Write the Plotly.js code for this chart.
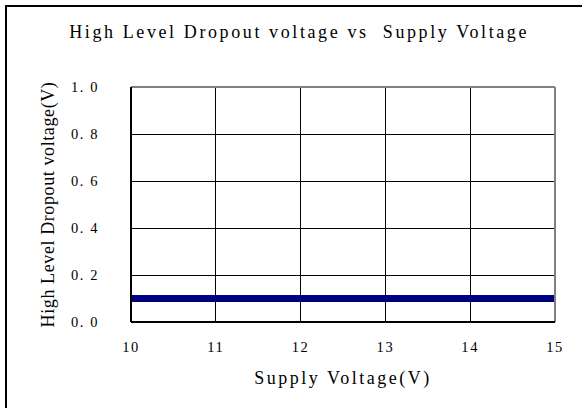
<!DOCTYPE html>
<html>
<head>
<meta charset="utf-8">
<script src="https://cdn.plot.ly/plotly-3.0.1.min.js"></script>
<style>
html,body{margin:0;padding:0;background:#fff;}
#wrap{position:relative;width:582px;height:408px;}
#chart{width:582px;height:408px;}
#frame{position:absolute;left:5px;top:5px;right:0;bottom:0;border-left:2px solid #000;border-top:2px solid #000;pointer-events:none;}
#chart .gtitle{letter-spacing:2.6px;}
#chart .xtitle{letter-spacing:2.5px;}
#chart .ytitle{letter-spacing:0.6px;}
#chart .xtick text, #chart .ytick text{letter-spacing:1.6px;}
</style>
</head>
<body>
<div id="wrap"><div id="chart"></div><div id="frame"></div></div>
<script>
const supplyVoltage = [10, 11, 12, 13, 14, 15];
const dropoutVoltage = [0.1, 0.1, 0.1, 0.1, 0.1, 0.1];
const yTickVals = [0, 0.2, 0.4, 0.6, 0.8, 1.0];
const yTickText = ["0. 0", "0. 2", "0. 4", "0. 6", "0. 8", "1. 0"];
const xTickVals = [10, 11, 12, 13, 14, 15];
const xTickText = ["10", "11", "12", "13", "14", "15"];

const serif = "Liberation Serif, Times New Roman, serif";

const data = [{
  x: supplyVoltage,
  y: dropoutVoltage,
  type: 'scatter',
  mode: 'lines',
  line: {color: '#000080', width: 7},
  hoverinfo: 'skip'
}];

const layout = {
  width: 582, height: 408,
  margin: {l: 131, r: 27, t: 87, b: 86},
  paper_bgcolor: '#fff', plot_bgcolor: '#fff',
  showlegend: false,
  font: {family: serif, color: '#000', size: 14},
  title: {text: 'High Level Dropout voltage vs  Supply Voltage', font: {family: serif, size: 18, color: '#000'}, x: 0.514, xref: 'container', xanchor: 'center', y: 0.922, yref: 'container', yanchor: 'middle'},
  xaxis: {
    range: [10, 15], tickmode: 'array', tickvals: xTickVals, ticktext: xTickText,
    showgrid: true, gridcolor: '#000', gridwidth: 1,
    zeroline: false, showline: false, ticks: 'outside', ticklen: 0, ticklabelstandoff: 12,
    tickfont: {family: serif, size: 14.5, color: '#000'},
    title: {text: 'Supply Voltage(V)', font: {family: serif, size: 18, color: '#000'}, standoff: 16}
  },
  yaxis: {
    range: [0, 1], tickmode: 'array', tickvals: yTickVals, ticktext: yTickText,
    showgrid: true, gridcolor: '#000', gridwidth: 1,
    zeroline: false, showline: false, ticks: 'outside', ticklen: 0, ticklabelstandoff: 28,
    tickfont: {family: serif, size: 14.5, color: '#000'},
    title: {text: 'High Level Dropout voltage(V)', font: {family: serif, size: 18, color: '#000'}, standoff: 18}
  },
  shapes: [
    {type: 'line', xref: 'paper', yref: 'paper', x0: 0, x1: 1, y0: 1, y1: 1, line: {color: '#808080', width: 2}},
    {type: 'line', xref: 'paper', yref: 'paper', x0: 1, x1: 1, y0: 0, y1: 1, line: {color: '#808080', width: 2}},
    {type: 'line', xref: 'paper', yref: 'paper', x0: 0, x1: 0, y0: 0, y1: 1, line: {color: '#000', width: 2}},
    {type: 'line', xref: 'paper', yref: 'paper', x0: 0, x1: 1, y0: 0, y1: 0, line: {color: '#000', width: 2}}
  ]
};

Plotly.newPlot('chart', data, layout, {displayModeBar: false, staticPlot: true});
</script>
</body>
</html>
